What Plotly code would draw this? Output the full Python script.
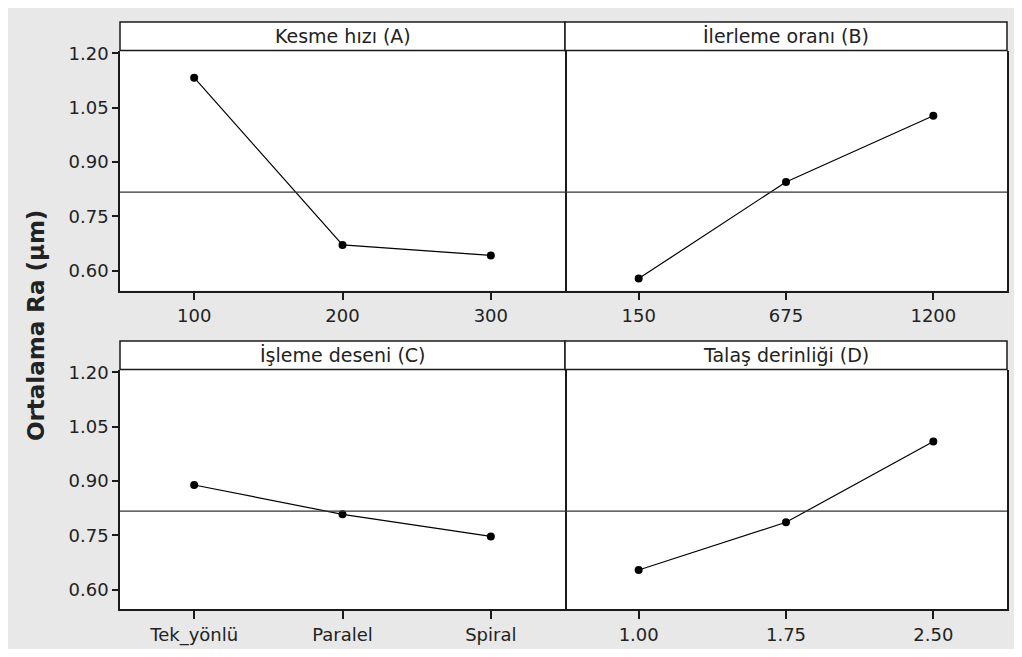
import plotly.graph_objects as go

# ---- data ----
levels_A = ["100", "200", "300"]
means_A = [1.133, 0.671, 0.642]
levels_B = ["150", "675", "1200"]
means_B = [0.578, 0.845, 1.028]
levels_C = ["Tek_yönlü", "Paralel", "Spiral"]
means_C = [0.889, 0.808, 0.747]
levels_D = ["1.00", "1.75", "2.50"]
means_D = [0.654, 0.786, 1.009]
grand_mean = 0.817
titles = ["Kesme hızı (A)", "İlerleme oranı (B)", "İşleme deseni (C)", "Talaş derinliği (D)"]
y_ticks = [0.60, 0.75, 0.90, 1.05, 1.20]
y_tick_text = ["0.60", "0.75", "0.90", "1.05", "1.20"]
y_title = "Ortalama Ra (μm)"

OFF = 8  # page body margin
W, H = 1006, 641
def fx(px): return (px - OFF) / W
def fy(py): return 1 - (py - OFF) / H

FONT = "DejaVu Sans"
panels = [
    (levels_A, means_A, (120, 565), (43, 286), 14),
    (levels_B, means_B, (565, 1007), (43, 286), 14),
    (levels_C, means_C, (120, 565), (366, 609), 337),
    (levels_D, means_D, (565, 1007), (366, 609), 337),
]

fig = go.Figure()
layout = dict(
    width=W, height=H, autosize=False,
    margin=dict(l=0, r=0, t=0, b=0),
    paper_bgcolor="#e8e8e8", plot_bgcolor="white",
    showlegend=False,
    shapes=[], annotations=[],
)

for i, (lv, mv, (xl, xr), (yt, yb), htop) in enumerate(panels):
    n = i + 1
    xa = "xaxis" if n == 1 else f"xaxis{n}"
    ya = "yaxis" if n == 1 else f"yaxis{n}"
    xr_ = "x" if n == 1 else f"x{n}"
    yr_ = "y" if n == 1 else f"y{n}"
    fig.add_trace(go.Scatter(x=lv, y=mv, mode="lines+markers", xaxis=xr_, yaxis=yr_,
                             line=dict(color="black", width=1.2),
                             marker=dict(color="black", size=8), hoverinfo="skip"))
    layout[xa] = dict(domain=[fx(xl), fx(xr)], anchor=yr_, type="category",
                      categoryorder="array", categoryarray=lv,
                      range=[-0.5, 2.5], showgrid=False, zeroline=False,
                      showline=True, mirror=False, linecolor="#1a1a1a", linewidth=1.5,
                      ticks="outside", ticklen=8, tickwidth=1.5, tickcolor="#1a1a1a",
                      tickfont=dict(family=FONT, size=18, color="#222"), fixedrange=True)
    left = (n % 2 == 1)
    if left:
        layout[ya] = dict(domain=[fy(yb), fy(yt)], anchor=xr_, range=[0.545, 1.208],
                          showgrid=False, zeroline=False,
                          showline=True, mirror=True, linecolor="#1a1a1a", linewidth=1.5,
                          tickvals=y_ticks, ticktext=y_tick_text,
                          ticks="outside", ticklen=6, tickwidth=1.5,
                          tickcolor="#1a1a1a", showticklabels=True,
                          tickfont=dict(family=FONT, size=18, color="#222"), fixedrange=True)
    else:
        layout[ya] = dict(domain=[fy(yb), fy(yt)], anchor=xr_, range=[0.545, 1.208],
                          side="right", showgrid=False, zeroline=False,
                          showline=True, mirror=False, linecolor="#1a1a1a", linewidth=1.5,
                          tickvals=y_ticks, ticks="", showticklabels=False, fixedrange=True)
    # grand mean line
    layout["shapes"].append(dict(type="line", xref=f"{xr_} domain", yref=yr_,
                                 x0=0, x1=1, y0=grand_mean, y1=grand_mean,
                                 line=dict(color="#333", width=1.2)))
    # header box
    layout["shapes"].append(dict(type="rect", xref="paper", yref="paper",
                                 x0=fx(xl), x1=fx(xr), y0=fy(yt), y1=fy(htop),
                                 fillcolor="white", line=dict(color="#1a1a1a", width=1.5)))
    layout["annotations"].append(dict(xref="paper", yref="paper",
                                      x=(fx(xl) + fx(xr)) / 2, y=(fy(yt) + fy(htop)) / 2,
                                      text=titles[i], showarrow=False,
                                      xanchor="center", yanchor="middle",
                                      font=dict(family=FONT, size=19, color="#222")))

layout["annotations"].append(dict(xref="paper", yref="paper", x=fx(36), y=fy(322),
                                  text=y_title, showarrow=False, textangle=-90,
                                  xanchor="center", yanchor="middle",
                                  font=dict(family=FONT, size=23, color="#222", weight="bold")))

fig.update_layout(**layout)
fig.write_html("out.html")
